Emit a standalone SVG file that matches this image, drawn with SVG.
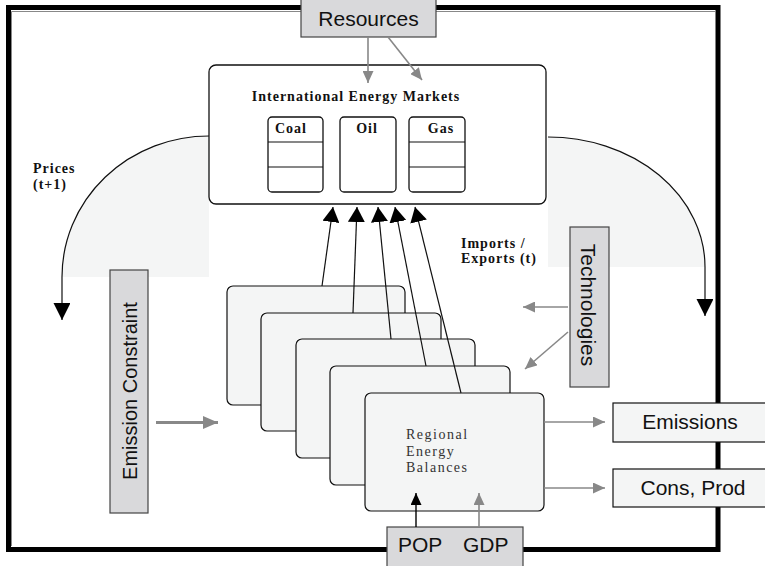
<svg xmlns="http://www.w3.org/2000/svg" width="765" height="566" viewBox="0 0 765 566">
<style>
.sans{font-family:"Liberation Sans",Arial,sans-serif;fill:#111}
.serifb{font-family:"Liberation Serif","Times New Roman",serif;font-weight:bold;font-size:14px;letter-spacing:1px;fill:#111}
.serif{font-family:"Liberation Serif","Times New Roman",serif;font-size:14px;letter-spacing:1.5px;fill:#333}
.gbox{fill:#d9d9db;stroke:#444;stroke-width:1.2}
.lbox{fill:#f4f5f5;stroke:#111;stroke-width:1.2}
.stack{fill:#f4f5f5;stroke:#111;stroke-width:1.2}
.inner{fill:#fff;stroke:#111;stroke-width:1.3}
.gl{stroke:#888;stroke-width:1.6;fill:none}
.bl{stroke:#111;stroke-width:1.2;fill:none}
</style>
<defs>
<marker id="big" markerUnits="userSpaceOnUse" markerWidth="16" markerHeight="17" refX="15" refY="8.5" orient="auto"><path d="M0,0 L15,8.5 L0,17 z" fill="#000"/></marker>
<marker id="sm" markerUnits="userSpaceOnUse" markerWidth="13" markerHeight="11" refX="12" refY="5.5" orient="auto"><path d="M0,0 L12,5.5 L0,11 z" fill="#888"/></marker>
<marker id="smb" markerUnits="userSpaceOnUse" markerWidth="13" markerHeight="11" refX="12" refY="5.5" orient="auto"><path d="M0,0 L12,5.5 L0,11 z" fill="#000"/></marker>
<marker id="em" markerUnits="userSpaceOnUse" markerWidth="16" markerHeight="14" refX="15" refY="6.5" orient="auto"><path d="M0,0 L15,6.5 L0,13 z" fill="#888"/></marker>
<marker id="pr" markerUnits="userSpaceOnUse" markerWidth="18" markerHeight="18" refX="17" refY="8.5" orient="auto"><path d="M0,0 L17,8.5 L0,17 z" fill="#000"/></marker>
</defs>

<g id="frame">
<rect x="8.5" y="7.5" width="709.5" height="542" fill="#fff" stroke="#000" stroke-width="5"/>
<polyline points="11.5,546 11.5,11.5 715,11.5" fill="none" stroke="#888" stroke-width="1"/>
</g>

<g id="price-loops">
<path d="M209,136 A147,141 0 0 0 62,277 L209,277 Z" fill="#f4f5f5" stroke="none"/>
<path d="M548,137 A157,130 0 0 1 705,267 L548,267 Z" fill="#f4f5f5" stroke="none"/>
</g>

<g id="resources"><rect class="gbox" x="301" y="-2" width="135" height="39"/><text class="sans" x="368.5" y="26" font-size="21" text-anchor="middle">Resources</text></g>

<g id="iem">
<rect x="209" y="65" width="337" height="139" rx="7" fill="#fff" stroke="#111" stroke-width="1.3"/>
<text class="serifb" x="356" y="101" text-anchor="middle">International Energy Markets</text>
</g>
<g id="coal"><rect class="inner" x="268" y="117" width="55" height="75" rx="4"/><line class="bl" x1="268" y1="142" x2="323" y2="142"/><line class="bl" x1="268" y1="167" x2="323" y2="167"/><text class="serifb" x="275" y="133">Coal</text></g>
<g id="oil"><rect class="inner" x="340" y="117" width="56" height="75" rx="4"/><text class="serifb" x="367" y="133" text-anchor="middle">Oil</text></g>
<g id="gas"><rect class="inner" x="409" y="117" width="56" height="75" rx="4"/><line class="bl" x1="409" y1="142" x2="465" y2="142"/><line class="bl" x1="409" y1="167" x2="465" y2="167"/><text class="serifb" x="441" y="133" text-anchor="middle">Gas</text></g>

<g id="prices-label"><text class="serifb" x="33" y="173">Prices</text><text class="serifb" x="33" y="189">(t+1)</text></g>
<g id="imports-label"><text class="serifb" x="461" y="248">Imports /</text><text class="serifb" x="461" y="263">Exports (t)</text></g>

<g id="technologies"><rect class="gbox" x="570" y="227" width="39" height="160"/><text class="sans" font-size="21" text-anchor="middle" transform="translate(581,305) rotate(90)">Technologies</text></g>

<g id="emission-constraint"><rect class="gbox" x="110" y="270" width="38" height="243"/><text class="sans" font-size="20" text-anchor="middle" transform="translate(136.5,391) rotate(-90)">Emission Constraint</text></g>

<g id="regional-balances">
<rect class="stack" x="227" y="286" width="178" height="119" rx="6"/>
<rect class="stack" x="261" y="313" width="180" height="118" rx="6"/>
<rect class="stack" x="296" y="339" width="179" height="119" rx="6"/>
<rect class="stack" x="330" y="366" width="180" height="119" rx="6"/>
<rect class="stack" x="365" y="393" width="179" height="118" rx="6"/>
<text class="serif" x="406" y="439">Regional</text>
<text class="serif" x="406" y="456">Energy</text>
<text class="serif" x="406" y="472">Balances</text>
</g>

<g id="emissions"><rect class="lbox" x="613" y="403" width="160" height="39"/><text class="sans" x="690" y="429" font-size="21" text-anchor="middle">Emissions</text></g>
<g id="cons-prod"><rect class="lbox" x="613" y="469" width="160" height="38"/><text class="sans" x="693" y="495" font-size="21" text-anchor="middle">Cons, Prod</text></g>
<g id="pop-gdp"><rect class="gbox" x="387" y="527" width="136" height="45"/><text class="sans" x="398" y="552" font-size="21">POP</text><text class="sans" x="463" y="552" font-size="21">GDP</text></g>

<g id="connectors">
<path class="bl" d="M209,136 A147,141 0 0 0 62,277 L62,320" marker-end="url(#pr)"/>
<path class="bl" d="M548,137 A157,130 0 0 1 705,267 L705,316" marker-end="url(#pr)"/>
<line class="gl" x1="368" y1="37" x2="368" y2="83" marker-end="url(#sm)"/>
<line class="gl" x1="388" y1="37" x2="422" y2="80" marker-end="url(#sm)"/>
<line class="gl" x1="568" y1="307" x2="523" y2="307" marker-end="url(#sm)"/>
<line class="gl" x1="568" y1="332" x2="525" y2="369" marker-end="url(#sm)"/>
<line x1="156" y1="422.5" x2="218" y2="422.5" stroke="#888" stroke-width="3" marker-end="url(#em)"/>
<line class="bl" x1="322" y1="286" x2="333" y2="207" marker-end="url(#big)"/>
<line class="bl" x1="353" y1="313" x2="357" y2="207" marker-end="url(#big)"/>
<line class="bl" x1="391" y1="339" x2="378" y2="207" marker-end="url(#big)"/>
<line class="bl" x1="426" y1="366" x2="395" y2="207" marker-end="url(#big)"/>
<line class="bl" x1="461" y1="393" x2="415" y2="207" marker-end="url(#big)"/>
<line class="gl" x1="544" y1="422" x2="605" y2="422" marker-end="url(#sm)"/>
<line class="gl" x1="544" y1="488" x2="605" y2="488" marker-end="url(#sm)"/>
<line x1="416" y1="527" x2="416" y2="493" stroke="#000" stroke-width="1.4" marker-end="url(#smb)"/>
<line class="gl" x1="479" y1="527" x2="479" y2="493" marker-end="url(#sm)"/>
</g>
</svg>
